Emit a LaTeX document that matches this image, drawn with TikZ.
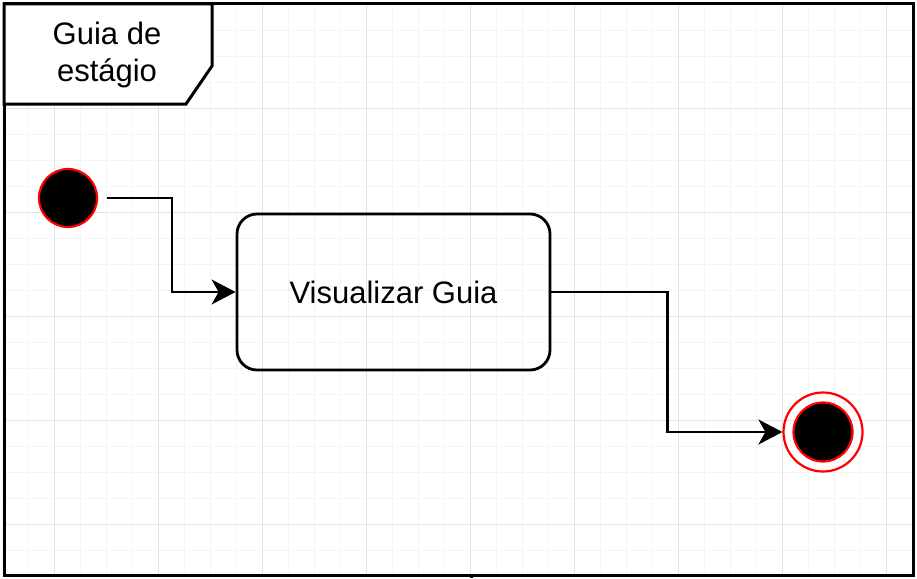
\documentclass[tikz,border=0pt]{standalone}
\usepackage{fontspec}
\setmainfont{Liberation Sans}
\usetikzlibrary{arrows.meta}
\begin{document}
\begin{tikzpicture}[x=1pt,y=-1pt,
  minorgrid/.style={draw=black!4, line width=0.8pt},
  majorgrid/.style={draw=black!11, line width=0.8pt},
  frameline/.style={line width=3pt, draw=black},
  flow/.style={line width=2.4pt, -{Stealth[length=24pt,width=25pt,inset=7pt]}},
  initial/.style={circle, fill=black, draw=red, line width=2.2pt, minimum size=58pt, inner sep=0pt},
  action/.style={draw, rounded corners=20pt, line width=2.8pt, minimum width=313pt, minimum height=156pt, font=\fontsize{31}{37}\selectfont},
  finalring/.style={circle, draw=red, line width=2.2pt, minimum size=79pt, inner sep=0pt},
  finaldot/.style={circle, fill=black, draw=red, line width=2.2pt, minimum size=59pt, inner sep=0pt}
]
\useasboundingbox (0,0) rectangle (917,578);
\fill[white] (0,0) rectangle (917,578);
% grid
\foreach \x in {2,28,...,912} \draw[minorgrid] (\x,4) -- (\x,575);
\foreach \y in {4,30,...,575} \draw[minorgrid] (4,\y) -- (913,\y);
\foreach \x in {54,158,...,912} \draw[majorgrid] (\x,4) -- (\x,575);
\foreach \y in {4,108,...,575} \draw[majorgrid] (4,\y) -- (913,\y);
% frame
\draw[frameline] (4,4) rectangle (913,575);
\draw[frameline] (471,575) -- (471,578);
\draw[frameline, fill=white] (4,4) -- (212,4) -- (212,66) -- (186,104) -- (4,104) -- cycle;
\node[align=center, font=\fontsize{31}{37}\selectfont] (title) at (107,55) {Guia de\\estágio};
% nodes
\node[initial] (start) at (68,198) {};
\node[action] (act) at (393.5,292) {Visualizar Guia};
\node[finalring] (end) at (823,432) {};
\node[finaldot] (enddot) at (823,432) {};
% connectors
\draw[flow, shorten <=9pt] (start.east) -- ++(74,0) |- (act.west);
\draw[flow] (act.east) -- ++(116,0) |- (end.west);
\end{tikzpicture}
\end{document}
